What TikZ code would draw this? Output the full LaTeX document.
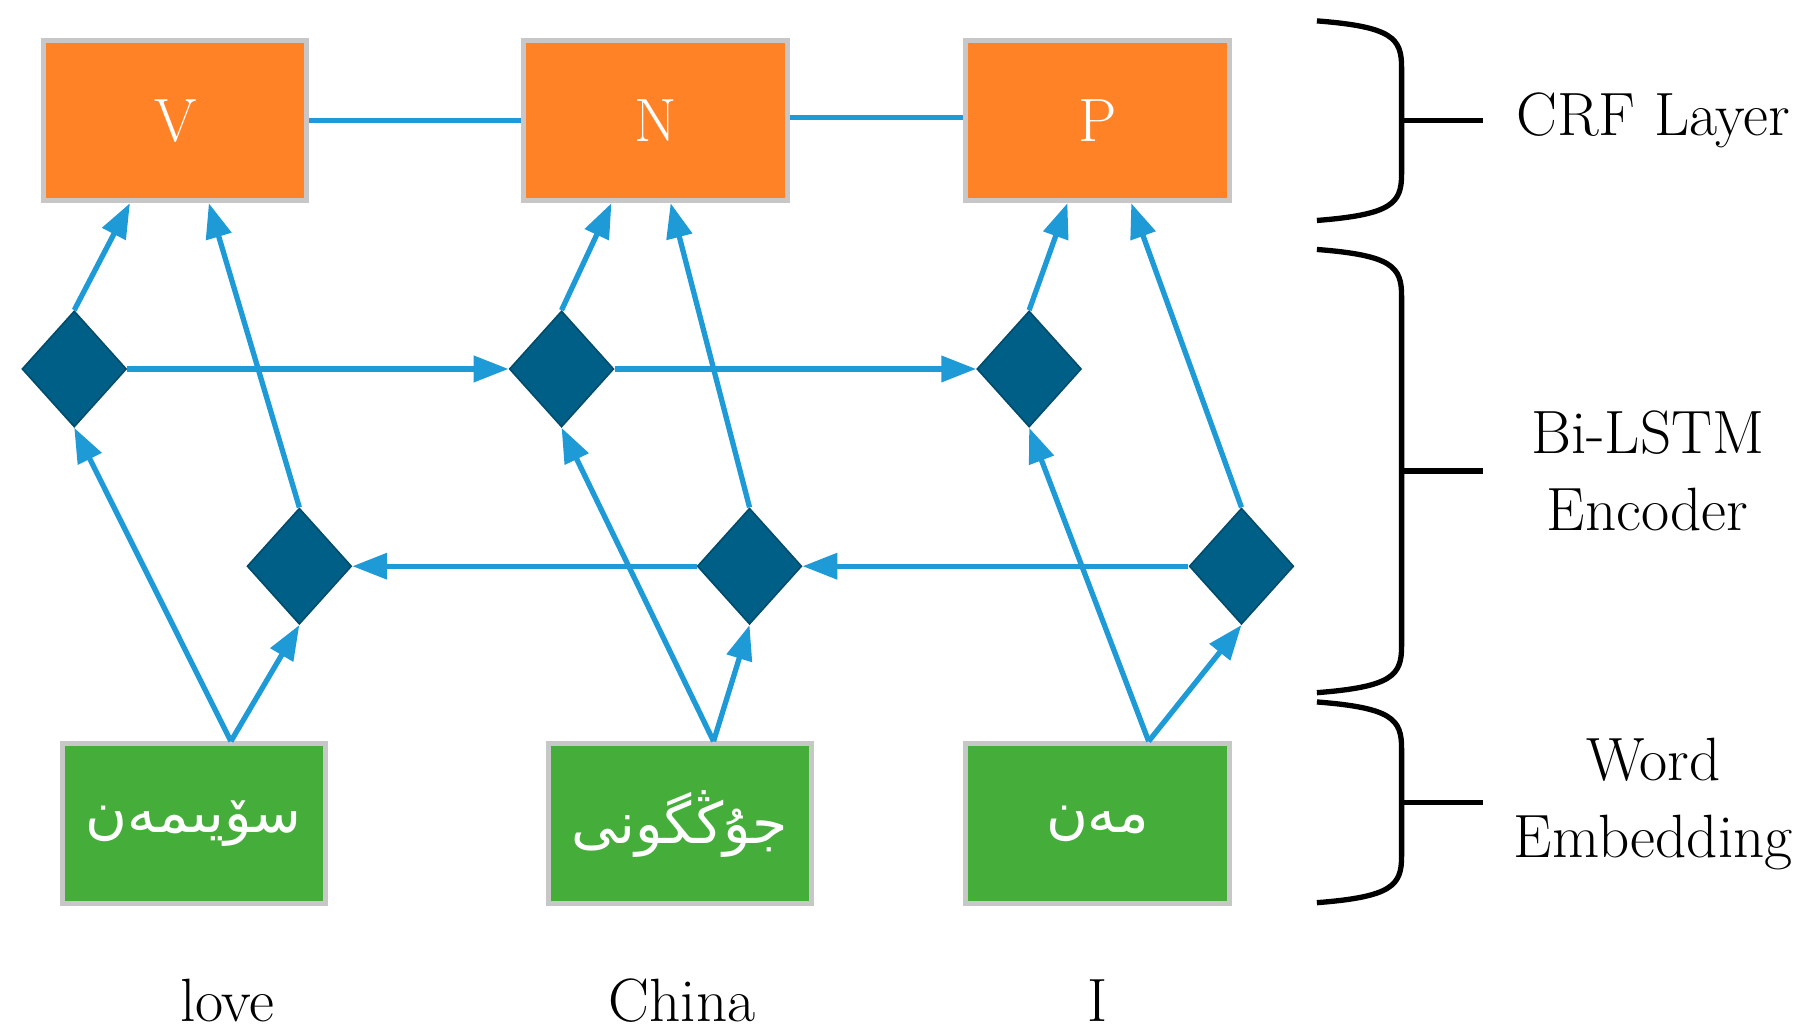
\documentclass[tikz,border=0pt]{standalone}
\usepackage{fontspec}
\newfontfamily\uyghur[Script=Arabic]{DejaVu Sans}
\usetikzlibrary{shapes.geometric,arrows.meta}
\definecolor{crforange}{HTML}{FF8227}
\definecolor{embgreen}{HTML}{45AE3A}
\definecolor{lstmblue}{HTML}{005F87}
\definecolor{linkblue}{HTML}{1E9BD7}
\tikzset{
  tag/.style={draw=black!22, line width=1.2pt, fill=crforange, text=white, minimum width=2.27cm, minimum height=1.38cm, font=\fontsize{15}{18}\selectfont},
  emb/.style={draw=black!22, line width=1.2pt, fill=embgreen, text=white, minimum width=2.27cm, minimum height=1.38cm, font=\uyghur\fontsize{14}{18}\selectfont},
  cell/.style={diamond, draw=lstmblue!80!black, fill=lstmblue, inner sep=0pt, minimum width=0.9cm, minimum height=1.0cm},
  link/.style={linkblue, line width=1.3pt},
  flow/.style={link, -{Triangle[length=0.3cm, width=0.22cm]}},
  side/.style={font=\fontsize{15}{19}\selectfont, align=center}
}
\newcommand\layerbrace[2]{% top y, bottom y
  \draw[line width=1.3pt] (1135,#1) .. controls (1200,#1+5) and (1208,#1+15) .. (1208,#1+40)
    -- (1208,#2-40) .. controls (1208,#2-15) and (1200,#2-5) .. (1135,#2);
  \draw[line width=1.3pt] (1208,{(#1+#2)/2}) -- (1278,{(#1+#2)/2});
}
\begin{document}
\begin{tikzpicture}[x=0.1mm, y=-0.1mm]
\useasboundingbox (0,0) rectangle (1560,891);
% CRF layer
\node[tag] (v) at (151,104) {V};
\node[tag] (n) at (565,104) {N};
\node[tag] (p) at (946,104) {P};
\draw[link] (v.east) -- (n.west);
\draw[link] ([yshift=0.03cm]n.east) -- ([yshift=0.03cm]p.west);
% word embeddings
\node[emb] (w1) at (167,710) {سۆيىمەن};
\node[emb] (w2) at (586,710) {جۇڭگونى};
\node[emb] (w3) at (946,710) {مەن};
% Bi-LSTM cells
\node[cell] (f1) at (64,318) {};
\node[cell] (f2) at (484,318) {};
\node[cell] (f3) at (887,318) {};
\node[cell] (b1) at (258,488) {};
\node[cell] (b2) at (646,488) {};
\node[cell] (b3) at (1070,488) {};
\draw[flow] (f1) -- (f2);
\draw[flow] (f2) -- (f3);
\draw[flow] (b3) -- (b2);
\draw[flow] (b2) -- (b1);
% inputs
\draw[flow] ([xshift=0.32cm]w1.north) -- (f1.south);
\draw[flow] ([xshift=0.32cm]w1.north) -- (b1.south);
\draw[flow] ([xshift=0.29cm]w2.north) -- (f2.south);
\draw[flow] ([xshift=0.29cm]w2.north) -- (b2.south);
\draw[flow] ([xshift=0.44cm]w3.north) -- (f3.south);
\draw[flow] ([xshift=0.44cm]w3.north) -- (b3.south);
% outputs
\draw[flow] (f1.north) -- ([xshift=-0.39cm]v.south);
\draw[flow] (b1.north) -- ([xshift=0.29cm]v.south);
\draw[flow] (f2.north) -- ([xshift=-0.38cm]n.south);
\draw[flow] (b2.north) -- ([xshift=0.13cm]n.south);
\draw[flow] (f3.north) -- ([xshift=-0.26cm]p.south);
\draw[flow] (b3.north) -- ([xshift=0.29cm]p.south);
% translations
\node[side] (t1) at (196,862) {love};
\node[side] (t2) at (588,862) {China};
\node[side] (t3) at (946,862) {I};
% layer braces
\layerbrace{18}{190}
\layerbrace{215}{597}
\layerbrace{605}{778}
\node[side] (crf) at (1425,104) {CRF Layer};
\node[side] (enc) at (1420,406) {Bi-LSTM\\Encoder};
\node[side] (we) at (1425,693) {Word\\Embedding};
\end{tikzpicture}
\end{document}
